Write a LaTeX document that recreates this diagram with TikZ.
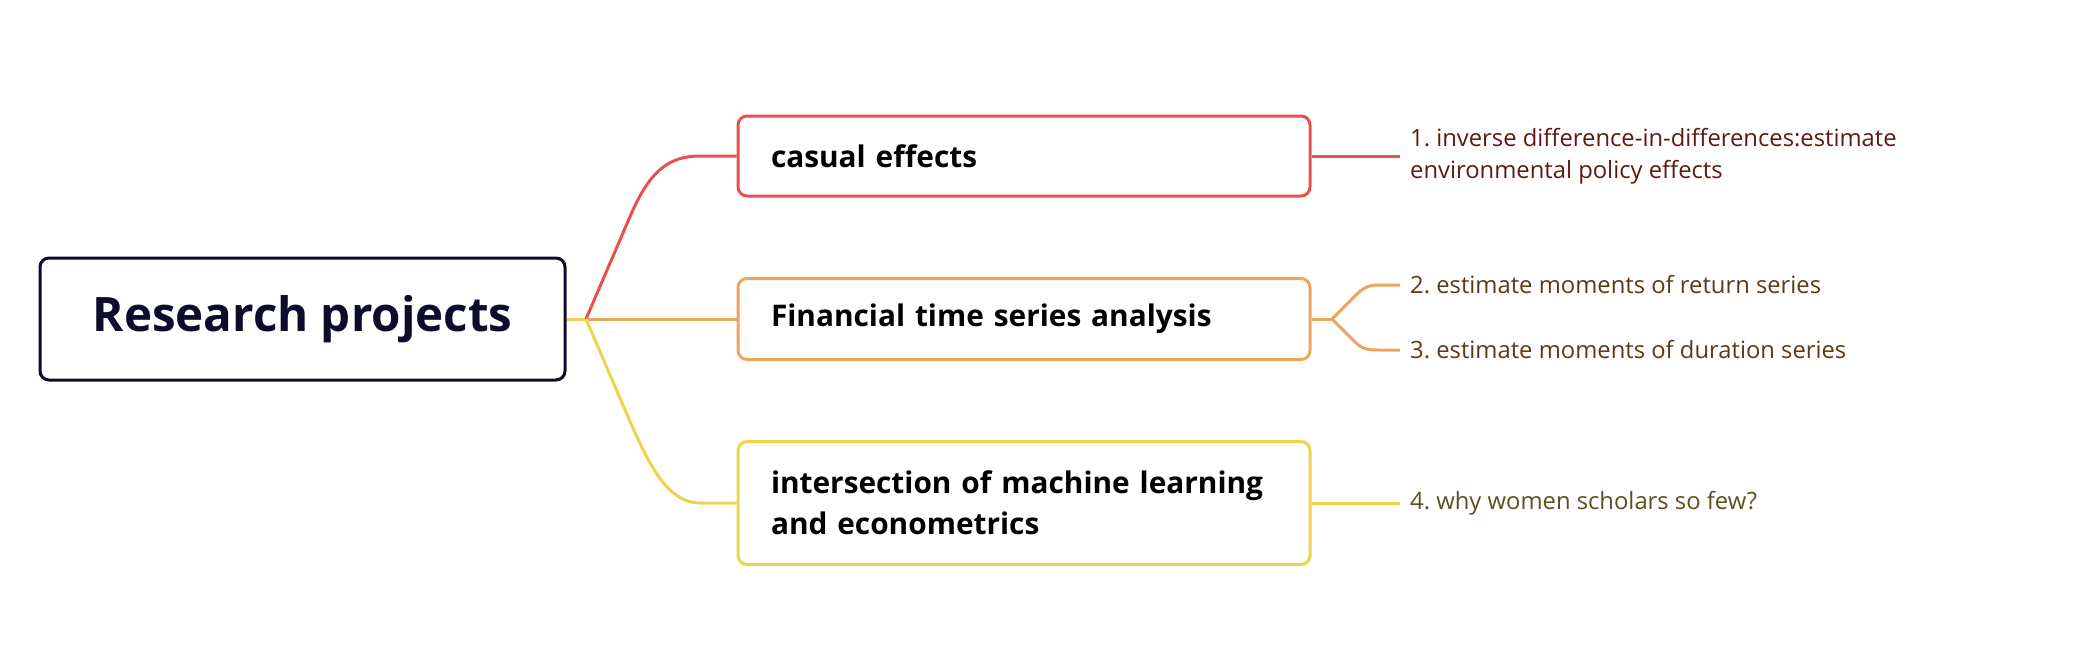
\documentclass[tikz,border=0pt]{standalone}
\usepackage{fontspec}
\setmainfont{Open Sans}
\definecolor{cred}{HTML}{E8524A}
\definecolor{corange}{HTML}{EDA55E}
\definecolor{cyellow}{HTML}{EFD34C}
\definecolor{croot}{HTML}{0D0C2B}
\definecolor{tred}{HTML}{5E1A12}
\definecolor{torange}{HTML}{5C3A14}
\definecolor{tyellow}{HTML}{5A5020}
\frenchspacing
\begin{document}
\begin{tikzpicture}[x=1pt,y=-1pt,
  rootbox/.style={draw=croot,line width=3pt,rounded corners=9pt,minimum width=525pt,minimum height=122pt,
     font=\fontsize{47.5}{54}\selectfont\bfseries,text=croot},
  subbox/.style={line width=3pt,rounded corners=9pt,minimum width=572pt,text width=506pt,inner xsep=33pt,align=left,
     font=\fontsize{29.8}{41}\selectfont\bfseries,text=black},
  leaf/.style={anchor=west,inner xsep=10pt,align=left,font=\fontsize{23.8}{32}\selectfont},
  conn/.style={line width=3pt}]
\useasboundingbox (0,0) rectangle (2088,656);
\node[rootbox] (root) at (302.5,319) {\raisebox{-3pt}{Research projects}};
\node[subbox,draw=cred,minimum height=80pt] (b1) at (1024,156) {casual effects};
\node[subbox,draw=corange,minimum height=81pt] (b2) at (1024,319) {Financial time series analysis};
\node[subbox,draw=cyellow,minimum height=123pt] (b3) at (1024,503) {intersection of machine learning\\and econometrics};
\coordinate (J) at (586,319);
\coordinate (K) at (1332,319);
\node[leaf,text=tred] (l1) at (1400,156) {1. inverse difference-in-differences:estimate\\environmental policy effects};
\node[leaf,text=torange] (l2) at (1400,285) {2. estimate moments of return series};
\node[leaf,text=torange] (l3) at (1400,350) {3. estimate moments of duration series};
\node[leaf,text=tyellow] (l4) at (1400,503) {4. why women scholars so few?};
\draw[conn,cyellow] (root.east) -- (J);
\draw[conn,cred] (J) -- (632,212) .. controls (650,172) and (668,156) .. (700,156) -- (b1.west);
\draw[conn,corange] (J) -- (b2.west);
\draw[conn,cyellow] (J) -- (632,426) .. controls (650,466) and (668,503) .. (700,503) -- (b3.west);
\draw[conn,cred] (b1.east) -- (l1.west);
\draw[conn,corange] (b2.east) -- (K);
\draw[conn,corange] (K) -- (1354,297) .. controls (1362,289) and (1367,285) .. (1378,285) -- (l2.west);
\draw[conn,corange] (K) -- (1354,341) .. controls (1362,349) and (1367,350) .. (1378,350) -- (l3.west);
\draw[conn,cyellow] (b3.east) -- (l4.west);
\end{tikzpicture}
\end{document}
